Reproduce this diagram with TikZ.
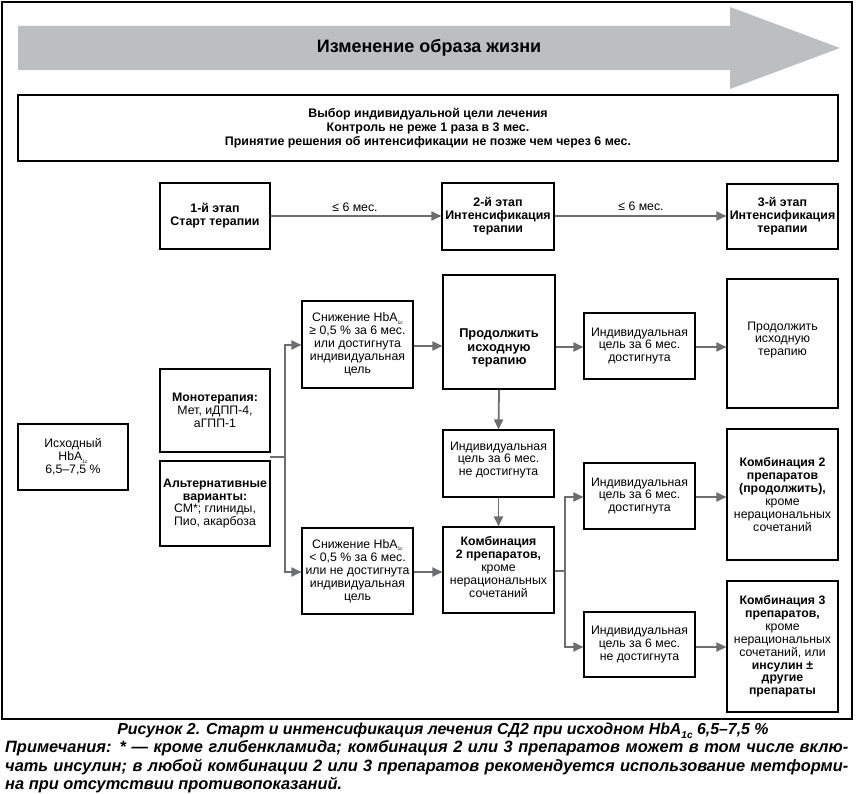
\documentclass[tikz,border=0pt]{standalone}
\usepackage{fontspec}
\setmainfont{Liberation Sans}
\usetikzlibrary{arrows.meta}
\definecolor{cgray}{HTML}{6D6E71}
\definecolor{agray}{HTML}{BCBEC0}
\newcommand{\hba}{HbA\raisebox{-0.35ex}{\fontsize{5}{5}\selectfont 1c}}
\begin{document}
\begin{tikzpicture}[x=1pt,y=-1pt,
  box/.style={draw=black, line width=1.1pt, inner sep=0pt, align=center,
    font=\fontsize{12.3}{12.9}\selectfont},
  txt/.style={inner sep=0pt, align=center, font=\fontsize{12.3}{12.9}\selectfont},
  conn/.style={draw=cgray, line width=1.8pt},
  arr/.style={conn, -{Triangle[length=10pt,width=9pt]}},
  lbl/.style={inner sep=0pt, font=\fontsize{12.3}{12.9}\selectfont}
]
\useasboundingbox (0,0) rectangle (856,794);
\draw[line width=1.1pt] (2,2) rectangle (852,719);
% big arrow
\fill[agray] (18,26) -- (730,26) -- (730,7) -- (840,48) -- (730,89) -- (730,70) -- (18,70) -- cycle;
\node[inner sep=0pt, font=\fontsize{18}{20}\selectfont\bfseries] (life) at (429,48) {Изменение образа жизни};
% goal box
\node[box, minimum width=820, minimum height=66, font=\fontsize{12.4}{14}\selectfont\bfseries] (goal) at (428,128)
  {Выбор индивидуальной цели лечения\\Контроль не реже 1 раза в 3 мес.\\Принятие решения об интенсификации не позже чем через 6 мес.};
% stages
\node[box, minimum width=110, minimum height=66, font=\fontsize{12.4}{13}\selectfont\bfseries] (s1) at (215,216) {1-й этап\\Старт терапии};
\node[box, minimum width=112, minimum height=67, font=\fontsize{12.4}{13}\selectfont\bfseries] (s2) at (498,216.5) {2-й этап\\Интенсификация\\терапии};
\node[box, minimum width=111, minimum height=65, font=\fontsize{12.4}{13}\selectfont\bfseries] (s3) at (782.5,216.5) {3-й этап\\Интенсификация\\терапии};
\draw[arr] (s1.east |- 0,216) -- (s2.west |- 0,216);
\draw[arr] (s2.east |- 0,216) -- (s3.west |- 0,216);
\node[lbl] (m1) at (355,207) {≤ 6 мес.};
\node[lbl] (m2) at (641,206) {≤ 6 мес.};
% left column
\node[box, minimum width=110, minimum height=66] (init) at (73,457) {Исходный\\\hba\\6,5–7,5 \%};
\node[box, minimum width=110, minimum height=83] (mono) at (215,410.5) {\textbf{Монотерапия:}\\Мет, иДПП-4,\\аГПП-1};
\node[box, minimum width=110, minimum height=85] (alt) at (215,503.5) {\textbf{Альтернативные}\\\textbf{варианты:}\\СМ*; глиниды,\\Пио, акарбоза};
% reduction boxes
\node[box, minimum width=111, minimum height=87] (red1) at (357.5,344.5) {Снижение \hba\\≥ 0,5 \% за 6 мес.\\или достигнута\\индивидуальная\\цель};
\node[box, minimum width=111, minimum height=86] (red2) at (357.5,571) {Снижение \hba\\< 0,5 \% за 6 мес.\\или не достигнута\\индивидуальная\\цель};
\coordinate (split) at (285,457);
\draw[conn] (270,457) -- (split);
\draw[arr] (split) |- (red1.west |- 0,345);
\draw[arr] (split) |- (red2.west |- 0,572);
% middle column
\node[box, minimum width=112, minimum height=114] (cont) at (499,332) {};
\node[txt, font=\fontsize{12.8}{13.5}\selectfont\bfseries] (contt) at (499,348) {Продолжить\\исходную\\терапию};
\node[box, minimum width=111, minimum height=67] (notach) at (498.5,463.5) {};
\node[txt] (notacht) at (498.5,460) {Индивидуальная\\цель за 6 мес.\\не достигнута};
\node[box, minimum width=111, minimum height=86] (comb2) at (498.5,570) {};
\node[txt] (comb2t) at (498.5,567) {\textbf{Комбинация}\\\textbf{2 препаратов,}\\кроме\\нерациональных\\сочетаний};
\draw[arr] (red1.east |- 0,346) -- (cont.west |- 0,346);
\draw[arr] (red2.east |- 0,572) -- (comb2.west |- 0,572);
\draw[arr] (cont.south) -- (notach.north);
\draw[arr] (notach.south) -- (comb2.north);
% right-middle column
\node[box, minimum width=111, minimum height=66] (ach1) at (639.5,346) {Индивидуальная\\цель за 6 мес.\\достигнута};
\node[box, minimum width=111, minimum height=66] (ach2) at (639.5,496) {Индивидуальная\\цель за 6 мес.\\достигнута};
\node[box, minimum width=111, minimum height=65] (notach2) at (639.5,644.5) {Индивидуальная\\цель за 6 мес.\\не достигнута};
\draw[arr] (cont.east |- 0,347) -- (ach1.west |- 0,347);
\coordinate (split2) at (565,571);
\draw[conn] (comb2.east |- 0,571) -- (split2);
\draw[arr] (split2) |- (ach2.west |- 0,497);
\draw[arr] (split2) |- (notach2.west |- 0,647);
% right column
\node[box, minimum width=111, minimum height=129] (cont2) at (782.5,343.5) {};
\node[txt] (cont2t) at (782.5,340) {Продолжить\\исходную\\терапию};
\node[box, minimum width=111, minimum height=131] (comb2c) at (782.5,494.5) {\textbf{Комбинация 2}\\\textbf{препаратов}\\\textbf{(продолжить),}\\кроме\\нерациональных\\сочетаний};
\node[box, minimum width=111, minimum height=131] (comb3) at (782.5,646.5) {\textbf{Комбинация 3}\\\textbf{препаратов,}\\кроме\\нерациональных\\сочетаний, или\\\textbf{инсулин ±}\\\textbf{другие}\\\textbf{препараты}};
\draw[arr] (ach1.east |- 0,347) -- (cont2.west |- 0,347);
\draw[arr] (ach2.east |- 0,497) -- (comb2c.west |- 0,497);
\draw[arr] (notach2.east |- 0,647) -- (comb3.west |- 0,647);
% caption
\begin{scope}[every node/.style={inner sep=0pt, font=\fontsize{15.9}{18}\selectfont\bfseries\itshape}]
\node[anchor=base] (cap1) at (443,734) {Рисунок 2. Старт и интенсификация лечения СД2 при исходном HbA\raisebox{-0.5ex}{\fontsize{10}{10}\selectfont 1c} 6,5–7,5 \%};
\node[anchor=base west, font=\fontsize{16.4}{18}\selectfont\bfseries\itshape] (cap2) at (5,752.5) {\hbox to 843pt{Примечания: * — кроме глибенкламида; комбинация 2 или 3 препаратов может в том числе вклю-}};
\node[anchor=base west, font=\fontsize{16.4}{18}\selectfont\bfseries\itshape] (cap3) at (5,771) {\hbox to 843pt{чать инсулин; в любой комбинации 2 или 3 препаратов рекомендуется использование метформи-}};
\node[anchor=base west, font=\fontsize{16.4}{18}\selectfont\bfseries\itshape] (cap4) at (5,789.5) {на при отсутствии противопоказаний.};
\end{scope}
\end{tikzpicture}
\end{document}
